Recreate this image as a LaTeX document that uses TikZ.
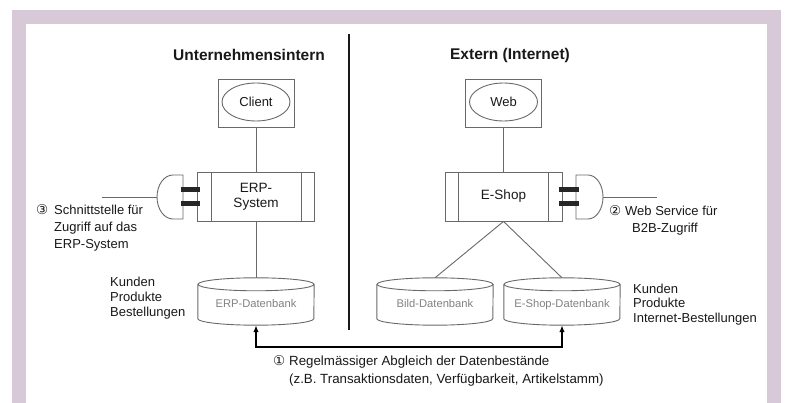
\documentclass[tikz,border=0pt]{standalone}
\usepackage{fontspec}
\setmainfont{Liberation Sans}
\newfontfamily\circfont{DejaVu Sans}
\usetikzlibrary{arrows.meta,shapes.geometric}
\definecolor{lilac}{RGB}{215,201,216}
\definecolor{linegray}{RGB}{105,105,105}
\definecolor{dbgray}{RGB}{130,130,130}
\definecolor{ink}{RGB}{25,25,25}

\begin{document}
\begin{tikzpicture}[x=1pt,y=-1pt,
  line/.style={draw=linegray,line width=0.9pt},
  frame box/.style={line,rectangle,minimum width=76pt,minimum height=48pt,inner sep=0pt},
  oval/.style={line,ellipse,minimum width=68pt,minimum height=38pt,inner sep=0pt,text=ink,font=\fontsize{13}{15}\selectfont},
  sys box/.style={line,rectangle,minimum width=117pt,minimum height=49pt,align=center,text=ink,font=\fontsize{13.5}{15}\selectfont},
  db/.style={rectangle,minimum width=116pt,minimum height=47pt,inner sep=0pt,text height=13pt,text depth=0pt,text=dbgray,font=\fontsize{11.2}{13}\selectfont},
  note/.style={align=left,inner sep=0pt,anchor=north west,text=ink,font=\fontsize{13}{17}\selectfont},
  title/.style={text=ink,font=\fontsize{15.5}{18}\selectfont\bfseries},
  bar/.style={draw=black!85,line width=5pt},
  sync/.style={draw=black,line width=1.5pt,{Latex[length=7pt,width=5.5pt]}-{Latex[length=7pt,width=5.5pt]}}]

  % frame
  \fill[white] (0,0) rectangle (785,403);
  \fill[lilac] (12,10) rectangle (781,403);
  \fill[white] (26,24) rectangle (767,403);
  \useasboundingbox (0,0) rectangle (785,403);

  \node[title] (intern) at (249,55) {Unternehmensintern};
  \node[title] (extern) at (510,55) {Extern (Internet)};
  \draw[draw=ink,line width=2.5pt] (349,34) -- (349,330);

  \node[frame box] (clientbox) at (256,103) {};
  \node[oval] (client) at (256,102) {Client};
  \node[frame box] (webbox) at (503.5,103) {};
  \node[oval] (web) at (503.5,102) {Web};

  \node[sys box] (erp) at (256,196.5) {ERP-\\System};
  \node[sys box] (shop) at (503.5,196.5) {E-Shop};
  \foreach \s in {erp,shop} {
    \draw[line] ([xshift=14pt]\s.north west) -- ([xshift=14pt]\s.south west);
    \draw[line] ([xshift=-14pt]\s.north east) -- ([xshift=-14pt]\s.south east);
  }

  \node[db] (erpdb) at (256,301.5) {ERP-Datenbank};
  \node[db] (bilddb) at (435,301.5) {Bild-Datenbank};
  \node[db] (shopdb) at (562,301.5) {E-Shop-Datenbank};
  \foreach \d in {erpdb,bilddb,shopdb} {
    \draw[line] ([yshift=-6.5pt]\d.north) ellipse (58pt and 6.5pt);
    \draw[line] ([yshift=-6.5pt]\d.north west) -- ([yshift=6.5pt]\d.south west)
      arc (180:360:58pt and 6.5pt) -- ([yshift=-6.5pt]\d.north east);
  }

  % interfaces
  \draw[line] (183,175) -- (173,175) arc (90:270:16pt and 22pt) -- (183,219) -- cycle;
  \draw[bar] (181,189.5) -- (200,189.5) (181,203.5) -- (200,203.5);
  \coordinate (erpplug) at (157,197);
  \coordinate (erpwire) at (102,197);
  \draw[line] (576,175) -- (588,175) arc (90:-90:15pt and 22pt) -- (576,219) -- cycle;
  \draw[bar] (559,189.5) -- (579,189.5) (559,203.5) -- (579,203.5);
  \coordinate (shopplug) at (603,197);
  \coordinate (shopwire) at (657,197);

  \path[line]
    (clientbox) edge (erp)
    (webbox) edge (shop)
    (erp) edge (erpdb)
    (shop.south) edge (bilddb.north)
    (shop.south) edge (shopdb.north)
    (erpwire) edge (erpplug)
    (shopplug) edge (shopwire);

  \draw[sync] (erpdb.south) -- ++(0,22) -| (shopdb.south);

  % labels
  \node[note] (iflabel) at (54,204) {\llap{\circfont\fontsize{13.5}{13}\selectfont ③\hspace{6pt}}Schnittstelle für\\Zugriff auf das\\ERP-System};
  \node[note] (wslabel) at (625,205) {\llap{\circfont\fontsize{13.5}{13}\selectfont ②\hspace{4pt}}Web Service für\\\hspace*{7pt}B2B-Zugriff};
  \node[note,font=\fontsize{13}{15.3}\selectfont] (erpdata) at (110,276.5) {Kunden\\Produkte\\Bestellungen};
  \node[note,font=\fontsize{13}{14.6}\selectfont] (shopdata) at (633,283.5) {Kunden\\Produkte\\Internet-Bestellungen};
  \node[note,font=\fontsize{13.3}{18}\selectfont] (synclabel) at (289,355.5) {\llap{\circfont\fontsize{13.5}{13}\selectfont ①\hspace{4pt}}Regelmässiger Abgleich der Datenbestände\\(z.B. Transaktionsdaten, Verfügbarkeit, Artikelstamm)};
\end{tikzpicture}
\end{document}
